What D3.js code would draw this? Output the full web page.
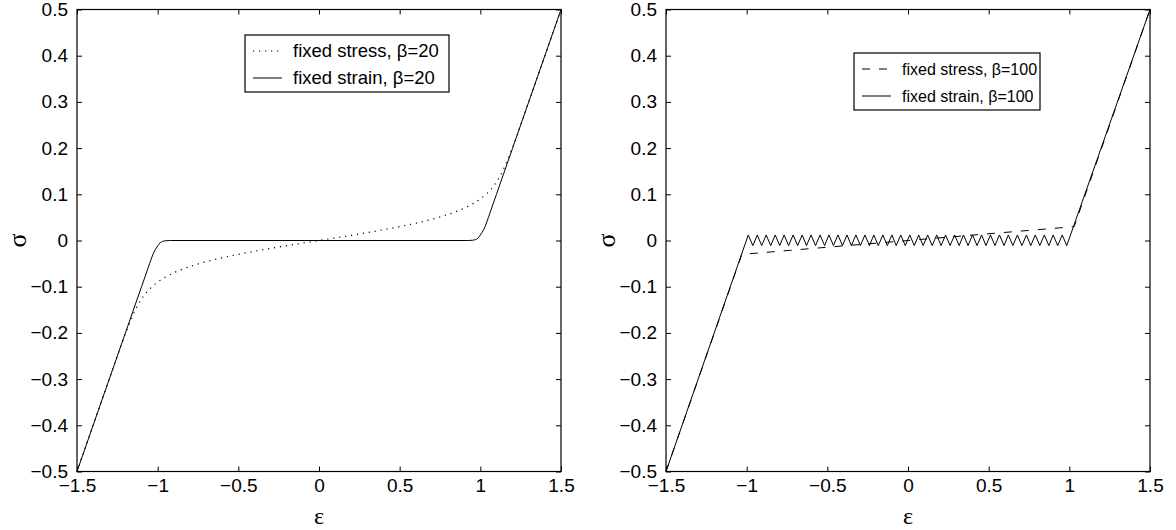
<!DOCTYPE html>
<html>
<head>
<meta charset="utf-8">
<script src="https://cdn.jsdelivr.net/npm/d3@7"></script>
<style>
  html, body { margin: 0; padding: 0; background: #fff; }
  svg { display: block; }
  .tick text { font-family: "Liberation Sans", Arial, Helvetica, sans-serif; font-size: 19px; fill: #000; }
</style>
</head>
<body>
<svg id="chart" width="1176" height="530"></svg>
<script>
// ---------------- DATA ----------------
const xTickValues = [-1.5, -1, -0.5, 0, 0.5, 1, 1.5];
const xTickLabels = ["\u22121.5", "\u22121", "\u22120.5", "0", "0.5", "1", "1.5"];
const yTickValues = [-0.5, -0.4, -0.3, -0.2, -0.1, 0, 0.1, 0.2, 0.3, 0.4, 0.5];
const yTickLabels = ["\u22120.5", "\u22120.4", "\u22120.3", "\u22120.2", "\u22120.1", "0", "0.1", "0.2", "0.3", "0.4", "0.5"];

// left panel, beta = 20 : fixed stress (dotted) [strain, stress]
const stress20 = [
  [-1.5, -0.5], [-1.3, -0.3], [-1.198, -0.2], [-1.151, -0.16], [-1.123, -0.14], [-1.087, -0.12],
  [-1.035, -0.10], [-1.0, -0.09], [-0.956, -0.08], [-0.901, -0.07], [-0.830, -0.06], [-0.741, -0.05],
  [-0.632, -0.04], [-0.5, -0.03], [-0.347, -0.02], [-0.178, -0.01], [0, 0],
  [0.178, 0.01], [0.347, 0.02], [0.5, 0.03], [0.632, 0.04], [0.741, 0.05], [0.830, 0.06],
  [0.901, 0.07], [0.956, 0.08], [1.0, 0.09], [1.035, 0.10], [1.087, 0.12], [1.123, 0.14],
  [1.151, 0.16], [1.198, 0.2], [1.3, 0.3], [1.5, 0.5]
];
// left panel, beta = 20 : fixed strain (solid)
const strain20 = [
  [-1.5, -0.5], [-1.2, -0.2], [-1.1, -0.1], [-1.06, -0.06], [-1.04, -0.04], [-1.02, -0.023],
  [-1.0, -0.012], [-0.985, -0.005], [-0.97, -0.002], [-0.95, -0.0005], [-0.92, 0], [0, 0],
  [0.92, 0], [0.95, 0.0005], [0.97, 0.002], [0.985, 0.005], [1.0, 0.012], [1.02, 0.023],
  [1.04, 0.04], [1.06, 0.06], [1.1, 0.1], [1.2, 0.2], [1.5, 0.5]
];
// right panel, beta = 100 : fixed stress (dashed)
const stress100 = [[-1.5, -0.5], [-1.03, -0.03], [1.03, 0.03], [1.5, 0.5]];
// right panel, beta = 100 : fixed strain (solid sawtooth)
const strain100 = [
  [-1.5, -0.5],
  [-0.990, 0.012], [-0.962, -0.011], [-0.934, 0.012], [-0.907, -0.011], [-0.879, 0.012], [-0.851, -0.011],
  [-0.823, 0.012], [-0.795, -0.011], [-0.768, 0.012], [-0.740, -0.011], [-0.712, 0.012], [-0.684, -0.011],
  [-0.656, 0.012], [-0.629, -0.011], [-0.601, 0.012], [-0.573, -0.011], [-0.545, 0.012], [-0.517, -0.011],
  [-0.490, 0.012], [-0.462, -0.011], [-0.434, 0.012], [-0.406, -0.011], [-0.378, 0.012], [-0.351, -0.011],
  [-0.323, 0.012], [-0.295, -0.011], [-0.267, 0.012], [-0.239, -0.011], [-0.212, 0.012], [-0.184, -0.011],
  [-0.156, 0.012], [-0.128, -0.011], [-0.100, 0.012], [-0.073, -0.011], [-0.045, 0.012], [-0.017, -0.011],
  [0.011, 0.012], [0.039, -0.011], [0.066, 0.012], [0.094, -0.011], [0.122, 0.012], [0.150, -0.011],
  [0.178, 0.012], [0.205, -0.011], [0.233, 0.012], [0.261, -0.011], [0.289, 0.012], [0.317, -0.011],
  [0.344, 0.012], [0.372, -0.011], [0.400, 0.012], [0.428, -0.011], [0.456, 0.012], [0.483, -0.011],
  [0.511, 0.012], [0.539, -0.011], [0.567, 0.012], [0.595, -0.011], [0.622, 0.012], [0.650, -0.011],
  [0.678, 0.012], [0.706, -0.011], [0.734, 0.012], [0.761, -0.011], [0.789, 0.012], [0.817, -0.011],
  [0.845, 0.012], [0.873, -0.011], [0.900, 0.012], [0.928, -0.011], [0.956, 0.012], [0.984, -0.011],
  [1.5, 0.5]
];
const legendLeft = ["fixed stress, \u03b2=20", "fixed strain, \u03b2=20"];
const legendRight = ["fixed stress, \u03b2=100", "fixed strain, \u03b2=100"];
const xLabel = "\u03b5";
const yLabel = "\u03c3";

// ---------------- DRAW ----------------
const svg = d3.select("#chart");
const FONT = '"Liberation Sans", Arial, Helvetica, sans-serif';
const SERIF = '"Liberation Serif", "Times New Roman", serif';

function panel(opts) {
  const { left, right, top, bottom, series, legend } = opts;
  const x = d3.scaleLinear().domain([-1.5, 1.5]).range([left, right]);
  const y = d3.scaleLinear().domain([-0.5, 0.5]).range([bottom, top]);
  const g = svg.append("g");

  const bx = d3.axisBottom(x).tickValues(xTickValues).tickFormat((d, i) => xTickLabels[i])
    .tickSizeInner(-5).tickSizeOuter(0).tickPadding(7);
  const tx = d3.axisTop(x).tickValues(xTickValues).tickFormat("").tickSizeInner(-5).tickSizeOuter(0);
  const ly = d3.axisLeft(y).tickValues(yTickValues).tickFormat((d, i) => yTickLabels[i])
    .tickSizeInner(-5).tickSizeOuter(0).tickPadding(9);
  const ry = d3.axisRight(y).tickValues(yTickValues).tickFormat("").tickSizeInner(-5).tickSizeOuter(0);

  g.append("g").attr("transform", `translate(0,${bottom})`).call(bx);
  g.append("g").attr("transform", `translate(0,${top})`).call(tx);
  g.append("g").attr("transform", `translate(${left},0)`).call(ly);
  g.append("g").attr("transform", `translate(${right},0)`).call(ry);
  g.selectAll(".domain").remove();
  g.selectAll(".tick line").attr("stroke", "#000").attr("stroke-width", 1);
  g.selectAll(".tick text").attr("fill", "#000");

  const line = d3.line().x(d => x(d[0])).y(d => y(d[1]));
  series.forEach(s => {
    g.append("path").datum(s.data)
      .attr("d", line.curve(s.curve || d3.curveLinear))
      .attr("fill", "none").attr("stroke", "#000")
      .attr("stroke-width", s.width || 1)
      .attr("stroke-dasharray", s.dash || null)
      .attr("stroke-linejoin", "round");
  });

  g.append("rect").attr("x", left).attr("y", top)
    .attr("width", right - left).attr("height", bottom - top)
    .attr("fill", "none").attr("stroke", "#000").attr("stroke-width", 1.2);

  g.append("text").attr("x", (left + right) / 2).attr("y", 524)
    .attr("text-anchor", "middle").attr("font-family", SERIF).attr("font-size", 24)
    .text(xLabel);
  g.append("text")
    .attr("transform", `translate(${left - 60},${(top + bottom) / 2}) rotate(-90)`)
    .attr("text-anchor", "middle").attr("dominant-baseline", "central")
    .attr("font-family", SERIF).attr("font-size", 26)
    .text(yLabel);

  const L = legend;
  const lg = g.append("g");
  lg.append("rect").attr("x", L.x).attr("y", L.y).attr("width", L.w).attr("height", L.h)
    .attr("fill", "#fff").attr("stroke", "#000").attr("stroke-width", 1.2);
  L.items.forEach((it, i) => {
    const cy = L.y + L.rows[i];
    lg.append("line").attr("x1", L.x + 8).attr("x2", L.x + 37).attr("y1", cy).attr("y2", cy)
      .attr("stroke", "#000").attr("stroke-width", it.width || 1)
      .attr("stroke-dasharray", it.dash || null);
    lg.append("text").attr("x", L.x + 48).attr("y", cy).attr("dy", "0.35em")
      .attr("font-family", FONT).attr("font-size", L.fs).text(it.label);
  });
}

panel({
  left: 77, right: 561, top: 9.5, bottom: 471.5,
  series: [
    { data: stress20, dash: "1.2,4.8", width: 1.2, curve: d3.curveMonotoneX },
    { data: strain20, curve: d3.curveMonotoneX }
  ],
  legend: {
    x: 245, y: 35, w: 204, h: 57, rows: [16, 43], fs: 18.5,
    items: [
      { label: legendLeft[0], dash: "1.2,4.8", width: 1.2 },
      { label: legendLeft[1] }
    ]
  }
});

panel({
  left: 666, right: 1150, top: 9.5, bottom: 471.5,
  series: [
    { data: stress100, dash: "8,9" },
    { data: strain100 }
  ],
  legend: {
    x: 854, y: 53, w: 186, h: 57, rows: [16, 43], fs: 16,
    items: [
      { label: legendRight[0], dash: "8,9" },
      { label: legendRight[1] }
    ]
  }
});
</script>
</body>
</html>
